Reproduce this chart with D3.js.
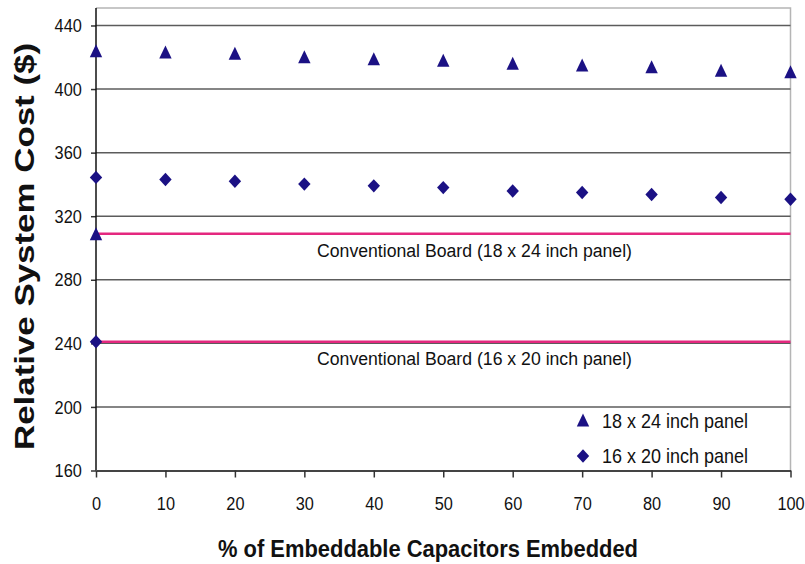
<!DOCTYPE html>
<html>
<head>
<meta charset="utf-8">
<script src="https://d3js.org/d3.v7.min.js"></script>
<style>
  body { margin: 0; background: #fff; }
  text { font-family: "Liberation Sans", Arial, sans-serif; fill: #111; }
</style>
</head>
<body>
<svg width="805" height="564"></svg>
<script>
// data
const pctEmbedded = [0, 10, 20, 30, 40, 50, 60, 70, 80, 90, 100];
const panel18x24 = [424.1, 423.3, 422.5, 420.3, 419.1, 418.1, 416.2, 415.1, 414.0, 411.9, 410.9];
const panel16x20 = [344.4, 343.1, 342.0, 340.2, 339.1, 338.0, 335.9, 334.9, 333.7, 331.8, 330.7];
const conventionalCost = [309, 241];
const conventionalLabels = ["Conventional Board (18 x 24 inch panel)", "Conventional Board (16 x 20 inch panel)"];
const seriesNames = ["18 x 24 inch panel", "16 x 20 inch panel"];
const yTicks = [160, 200, 240, 280, 320, 360, 400, 440];
const xTicks = [0, 10, 20, 30, 40, 50, 60, 70, 80, 90, 100];

const plotL = 96, plotR = 790.5, plotT = 8, plotB = 470.5;
const navy = "#1b1184", pink = "#e4287f";
const squeeze = 0.86; // the source text is a bit narrow

const svg = d3.select("svg");
const x = d3.scaleLinear().domain([0, 100]).range([plotL, plotR]);
const y = d3.scaleLinear().domain([160, 451]).range([plotB, plotT]);

const triangle = "M0,-6.5L6.2,6.5L-6.2,6.5Z";
const diamond = "M0,-6.7L6.2,0L0,6.7L-6.2,0Z";

// plot frame (light grey top/right)
svg.append("path")
  .attr("d", `M${plotL},${plotT}H${plotR}V${plotB}`)
  .attr("fill", "none").attr("stroke", "#b5b5b5").attr("stroke-width", 1.5);

// gridlines
svg.append("g").selectAll("line")
  .data(yTicks.filter(d => d > 160))
  .enter().append("line")
  .attr("x1", plotL).attr("x2", plotR)
  .attr("y1", d => y(d)).attr("y2", d => y(d))
  .attr("stroke", "#5c5c5c").attr("stroke-width", 1.5);

// y axis
const yAxis = svg.append("g").attr("transform", `translate(${plotL},0)`)
  .call(d3.axisLeft(y).tickValues(yTicks).tickSizeInner(5).tickSizeOuter(0).tickPadding(11.5));
yAxis.select(".domain").remove();
yAxis.selectAll(".tick line").attr("stroke", "#333").attr("stroke-width", 1.5);
yAxis.selectAll("text").style("font-size", "19px").attr("fill", "#111")
  .attr("transform", `scale(${squeeze},1)`);
svg.append("line").attr("x1", plotL).attr("x2", plotL).attr("y1", plotT).attr("y2", plotB)
  .attr("stroke", "#111").attr("stroke-width", 1.5);

// x axis
const xAxis = svg.append("g").attr("transform", `translate(0,${plotB})`)
  .call(d3.axisBottom(x).tickValues(xTicks).tickSizeInner(7).tickSizeOuter(0).tickPadding(19));
xAxis.select(".domain").attr("stroke", "#444").attr("stroke-width", 2);
xAxis.selectAll(".tick line").attr("stroke", "#333").attr("stroke-width", 1.5);
xAxis.selectAll("text").style("font-size", "19px").attr("fill", "#111")
  .attr("transform", `scale(${squeeze},1)`);

// conventional board lines
svg.append("g").selectAll("line")
  .data(conventionalCost)
  .enter().append("line")
  .attr("x1", x(0)).attr("x2", x(100))
  .attr("y1", d => y(d)).attr("y2", d => y(d))
  .attr("stroke", pink).attr("stroke-width", 2.5);

svg.append("g").selectAll("text")
  .data(conventionalLabels)
  .enter().append("text")
  .attr("x", 474.5)
  .attr("y", (d, i) => y(conventionalCost[i]) + 23)
  .attr("text-anchor", "middle")
  .attr("textLength", 315).attr("lengthAdjust", "spacingAndGlyphs")
  .style("font-size", "18px")
  .text(d => d);

// conventional markers at 0%
svg.append("path").attr("d", triangle).attr("fill", navy)
  .attr("transform", `translate(${x(0)},${y(conventionalCost[0])})`);
svg.append("path").attr("d", diamond).attr("fill", navy)
  .attr("transform", `translate(${x(0)},${y(conventionalCost[1])})`);

// series markers
svg.append("g").selectAll("path")
  .data(pctEmbedded)
  .enter().append("path")
  .attr("d", triangle).attr("fill", navy)
  .attr("transform", (d, i) => `translate(${x(d)},${y(panel18x24[i])})`);

svg.append("g").selectAll("path")
  .data(pctEmbedded)
  .enter().append("path")
  .attr("d", diamond).attr("fill", navy)
  .attr("transform", (d, i) => `translate(${x(d)},${y(panel16x20[i])})`);

// legend
const legend = svg.append("g").attr("transform", "translate(583,0)");
[triangle, diamond].forEach((shape, i) => {
  legend.append("path").attr("d", shape).attr("fill", navy)
    .attr("transform", `translate(0,${420 + i * 36})`);
  legend.append("text")
    .attr("x", 19).attr("y", 428 + i * 35)
    .attr("textLength", 146).attr("lengthAdjust", "spacingAndGlyphs")
    .style("font-size", "21px")
    .text(seriesNames[i]);
});

// axis titles
svg.append("text")
  .attr("x", 428).attr("y", 557)
  .attr("text-anchor", "middle")
  .attr("textLength", 420).attr("lengthAdjust", "spacingAndGlyphs")
  .style("font-size", "24px").style("font-weight", "bold")
  .text("% of Embeddable Capacitors Embedded");

svg.append("text")
  .attr("transform", "translate(34,246.5) rotate(-90)")
  .attr("text-anchor", "middle")
  .attr("textLength", 407).attr("lengthAdjust", "spacingAndGlyphs")
  .style("font-size", "28px").style("font-weight", "bold")
  .text("Relative System Cost ($)");
</script>
</body>
</html>
